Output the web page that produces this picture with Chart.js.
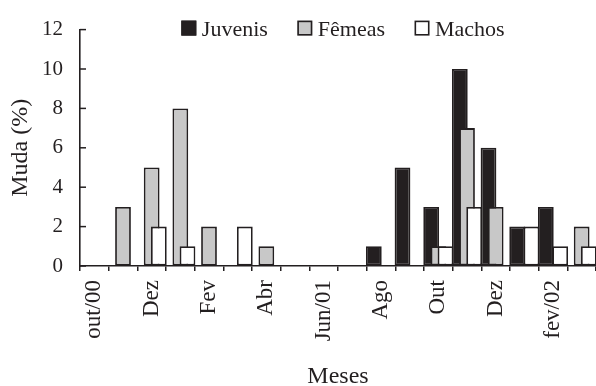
<!DOCTYPE html>
<html>
<head>
<meta charset="utf-8">
<script src="https://cdn.jsdelivr.net/npm/chart.js@4/dist/chart.umd.min.js"></script>
<style>
  html, body { margin: 0; padding: 0; background: #ffffff; }
  #wrap { width: 596px; height: 386px; }
</style>
</head>
<body>
<div id="wrap"><canvas id="chart" width="596" height="386"></canvas></div>
<script>
// Monthly moult percentages, Oct 2000 – Mar 2002
const monthLabels = ['out/00', '', 'Dez', '', 'Fev', '', 'Abr', '', 'Jun/01', '',
                     'Ago', '', 'Out', '', 'Dez', '', 'fev/02', ''];
const juvenis = [0, 0, 0, 0, 0, 0, 0, 0, 0, 0, 1, 5, 3, 10, 6, 2, 3, 0];
const femeas  = [0, 3, 5, 8, 2, 0, 1, 0, 0, 0, 0, 0, 1, 7, 3, 0, 0, 2];
const machos  = [0, 0, 2, 1, 0, 2, 0, 0, 0, 0, 0, 0, 1, 3, 0, 2, 1, 1];
const seriesNames = ['Juvenis', 'Fêmeas', 'Machos'];
const yMin = 0, yMax = 12, yStep = 2;

const ink = '#231f20';
const serif = '"Liberation Serif", "Times New Roman", serif';
const fills = ['#231f20', '#c8c8c8', '#ffffff'];

// Draw the series in dataset order so later series sit on top of earlier ones
const drawInOrder = {
  id: 'drawInOrder',
  beforeDatasetsDraw(chart) {
    const ctx = chart.ctx, a = chart.chartArea;
    ctx.save();
    ctx.beginPath();
    ctx.rect(a.left, a.top - 2, a.right - a.left + 2, a.bottom - a.top + 4);
    ctx.clip();
    for (let i = 0; i < chart.data.datasets.length; i++) {
      const meta = chart.getDatasetMeta(i);
      if (meta.visible !== false) meta.controller.draw();
    }
    ctx.restore();
    return false;
  }
};

// Short y tick marks pointing into the plot
const inwardTicks = {
  id: 'inwardTicks',
  afterDraw(chart) {
    const ys = chart.scales.y, ctx = chart.ctx, left = chart.chartArea.left;
    ctx.save();
    ctx.strokeStyle = ink;
    ctx.lineWidth = 1.5;
    ys.ticks.forEach(t => {
      const py = ys.getPixelForValue(t.value);
      ctx.beginPath();
      ctx.moveTo(left, py);
      ctx.lineTo(left + 6, py);
      ctx.stroke();
    });
    ctx.restore();
  }
};

// Legend row across the top of the plot
const topLegend = {
  id: 'topLegend',
  afterDraw(chart) {
    const ctx = chart.ctx, a = chart.chartArea;
    const box = 15, textGap = 5.5, itemGap = 29.5;
    ctx.save();
    ctx.font = '22px ' + serif;
    const items = chart.data.datasets.map(ds => ({ ds, w: ctx.measureText(ds.label).width }));
    const total = items.reduce((s, it) => s + box + textGap + it.w, 0) + itemGap * (items.length - 1);
    let x = (a.left + a.right) / 2 + 5 - total / 2;
    const boxTop = a.top - 9;
    items.forEach(it => {
      ctx.fillStyle = it.ds.backgroundColor;
      ctx.fillRect(x, boxTop, box, box);
      ctx.strokeStyle = ink;
      ctx.lineWidth = 1.6;
      ctx.strokeRect(x + 0.8, boxTop + 0.8, box - 1.6, box - 1.6);
      ctx.fillStyle = ink;
      ctx.textBaseline = 'alphabetic';
      ctx.textAlign = 'left';
      ctx.fillText(it.ds.label, x + box + textGap, boxTop + box);
      x += box + textGap + it.w + itemGap;
    });
    ctx.restore();
  }
};

const seriesData = [juvenis, femeas, machos];
const datasets = seriesNames.map((name, i) => ({
  label: name,
  data: seriesData[i],
  backgroundColor: fills[i],
  borderColor: ink,
  borderWidth: 1.8,
  borderSkipped: false,
  categoryPercentage: 0.75,
  barPercentage: 2.2
}));

new Chart(document.getElementById('chart'), {
  type: 'bar',
  data: { labels: monthLabels, datasets },
  options: {
    responsive: false,
    animation: false,
    devicePixelRatio: 1,
    layout: { padding: { top: 24, right: 0, bottom: 0, left: 0 } },
    plugins: {
      legend: { display: false },
      tooltip: { enabled: false }
    },
    scales: {
      x: {
        offset: true,
        grid: { display: true, drawOnChartArea: false, drawTicks: true, tickLength: 5,
                color: ink, lineWidth: 1.5, offset: true },
        border: { display: true, color: ink, width: 1.6, z: 1 },
        ticks: { autoSkip: false, minRotation: 90, maxRotation: 90, padding: 9,
                 color: ink, font: { family: serif, size: 23 } },
        title: { display: true, text: 'Meses', color: ink,
                 font: { family: serif, size: 24, lineHeight: 1 }, padding: { top: 0, bottom: -3 } },
        afterFit(s) { s.height = 120; s.paddingLeft = 0; s.paddingRight = 0; }
      },
      y: {
        min: yMin,
        max: yMax,
        ticks: { stepSize: yStep, padding: 17, color: ink, font: { family: serif, size: 21 } },
        grid: { display: true, drawOnChartArea: false, drawTicks: false },
        border: { display: true, color: ink, width: 1.6, z: 1 },
        title: { display: true, text: 'Muda (%)', color: ink,
                 font: { family: serif, size: 24, lineHeight: 1.2 }, padding: { top: 6, bottom: 0 } },
        afterFit(s) { s.width = 80; }
      }
    }
  },
  plugins: [drawInOrder, inwardTicks, topLegend]
});
</script>
</body>
</html>
